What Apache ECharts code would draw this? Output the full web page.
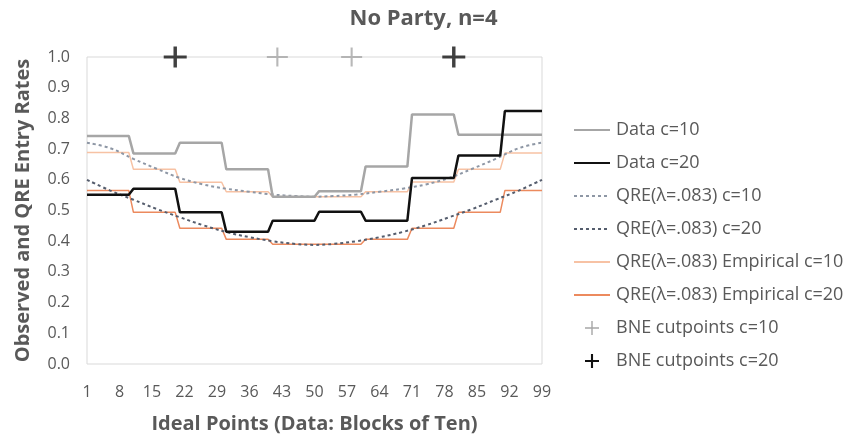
<!DOCTYPE html>
<html>
<head>
<meta charset="utf-8">
<script src="https://cdn.jsdelivr.net/npm/echarts@6/dist/echarts.min.js"></script>
<style>
  html, body { margin: 0; padding: 0; background: #fff; }
  #chart { width: 847px; height: 436px; }
</style>
</head>
<body>
<div id="chart"></div>
<script>
// ideal points 1..99
const categories = Array.from({ length: 99 }, (_, i) => String(i + 1));

// block values (1-10, 11-20, ..., 91-99)
const dataC10 = [0.743, 0.686, 0.721, 0.634, 0.545, 0.563, 0.643, 0.813, 0.747, 0.747];
const dataC20 = [0.551, 0.571, 0.494, 0.431, 0.467, 0.496, 0.467, 0.606, 0.679, 0.824];
const empiricalC10 = [0.689, 0.634, 0.592, 0.561, 0.545, 0.545, 0.561, 0.593, 0.634, 0.687];
const empiricalC20 = [0.565, 0.494, 0.442, 0.406, 0.390, 0.390, 0.406, 0.442, 0.494, 0.565];

// QRE curves read at these ideal points
const qrePoints = [1, 6, 11, 16, 21, 26, 31, 36, 41, 46, 50, 54, 59, 64, 69, 74, 79, 84, 89, 94, 99];
const qreC10 = [0.721, 0.703, 0.668, 0.636, 0.606, 0.585, 0.571, 0.561, 0.552, 0.547, 0.545,
  0.547, 0.552, 0.561, 0.571, 0.585, 0.606, 0.636, 0.668, 0.703, 0.721];
const qreC20 = [0.600, 0.565, 0.535, 0.505, 0.478, 0.452, 0.430, 0.413, 0.400, 0.391, 0.388,
  0.391, 0.400, 0.413, 0.430, 0.452, 0.478, 0.505, 0.535, 0.565, 0.600];

// BNE cutpoints
const bneC10 = [42, 58];
const bneC20 = [20, 80];

const yTicks = ['0.0', '0.1', '0.2', '0.3', '0.4', '0.5', '0.6', '0.7', '0.8', '0.9', '1.0'];

const textColor = '#595959';
const font = "'Open Sans', sans-serif";
const plus = 'path://M0,8.5 L20,8.5 L20,11.5 L0,11.5 Z M8.5,0 L11.5,0 L11.5,20 L8.5,20 Z';
const plusThin = 'path://M0,9 L20,9 L20,11 L0,11 Z M9,0 L11,0 L11,20 L9,20 Z';

function byBlock(blocks) {
  return categories.map((c, i) => blocks[Math.floor(i / 10)]);
}
function atPoints(points, values) {
  return points.map((p, i) => [p - 1, values[i]]);
}

const chart = echarts.init(document.getElementById('chart'));
const option = {
  animation: false,
  textStyle: { fontFamily: font },
  title: {
    text: 'No Party, n=4',
    left: 'center',
    top: 3,
    textStyle: { fontSize: 22, fontWeight: 'bold', color: textColor, fontFamily: font }
  },
  legend: {
    orient: 'vertical',
    left: 568,
    top: 116,
    itemWidth: 36,
    itemHeight: 14,
    itemGap: 15,
    itemStyle: { opacity: 0 },
    textStyle: { fontSize: 18, color: textColor, fontFamily: font, padding: [0, 0, 0, 1] },
    data: [
      'Data c=10', 'Data c=20', 'QRE(λ=.083) c=10', 'QRE(λ=.083) c=20',
      'QRE(λ=.083) Empirical c=10', 'QRE(λ=.083) Empirical c=20',
      { name: 'BNE cutpoints c=10', icon: plusThin, itemStyle: { color: '#a6a6a6', opacity: 1 } },
      { name: 'BNE cutpoints c=20', icon: plus, itemStyle: { color: '#111', opacity: 1 } }
    ]
  },
  grid: {
    left: 87,
    right: 305,
    top: 57,
    bottom: 72,
    outerBoundsMode: 'none',
    show: true,
    borderColor: '#d9d9d9',
    borderWidth: 1
  },
  xAxis: {
    type: 'category',
    data: categories,
    boundaryGap: false,
    axisLine: { show: false },
    axisTick: { show: false },
    axisLabel: { interval: 6, color: textColor, fontSize: 16, margin: 20, fontFamily: font },
    name: 'Ideal Points (Data: Blocks of Ten)',
    nameLocation: 'middle',
    nameGap: 50,
    nameTextStyle: { fontSize: 20, fontWeight: 'bold', color: textColor, fontFamily: font }
  },
  yAxis: {
    type: 'value',
    min: 0,
    max: 1,
    interval: 0.1,
    axisLine: { show: false },
    axisTick: { show: false },
    splitLine: { show: false },
    axisLabel: {
      color: textColor, fontSize: 16, margin: 17, fontFamily: font,
      formatter: (v) => yTicks[Math.round(v * 10)]
    },
    name: 'Observed and QRE Entry Rates',
    nameLocation: 'middle',
    nameGap: 54,
    nameTextStyle: { fontSize: 20, fontWeight: 'bold', color: textColor, fontFamily: font }
  },
  series: [
    {
      name: 'QRE(λ=.083) Empirical c=10',
      type: 'line',
      symbol: 'none',
      data: byBlock(empiricalC10),
      lineStyle: { color: '#f7c2a4', width: 1.5 },
      itemStyle: { color: '#f7c2a4' },
      z: 2
    },
    {
      name: 'QRE(λ=.083) Empirical c=20',
      type: 'line',
      symbol: 'none',
      data: byBlock(empiricalC20),
      lineStyle: { color: '#ec8a5e', width: 1.5 },
      itemStyle: { color: '#ec8a5e' },
      z: 2
    },
    {
      name: 'QRE(λ=.083) c=10',
      type: 'line',
      symbol: 'none',
      smooth: 0.4,
      data: atPoints(qrePoints, qreC10),
      lineStyle: { color: '#8e97a5', width: 2, type: [3, 3] },
      itemStyle: { color: '#8e97a5' },
      z: 3
    },
    {
      name: 'QRE(λ=.083) c=20',
      type: 'line',
      symbol: 'none',
      smooth: 0.4,
      data: atPoints(qrePoints, qreC20),
      lineStyle: { color: '#555d6d', width: 2, type: [3, 3] },
      itemStyle: { color: '#555d6d' },
      z: 3
    },
    {
      name: 'Data c=10',
      type: 'line',
      symbol: 'none',
      data: byBlock(dataC10),
      lineStyle: { color: '#a6a6a6', width: 2.5 },
      itemStyle: { color: '#a6a6a6' },
      z: 4
    },
    {
      name: 'Data c=20',
      type: 'line',
      symbol: 'none',
      data: byBlock(dataC20),
      lineStyle: { color: '#111', width: 2.5 },
      itemStyle: { color: '#111' },
      z: 5
    },
    {
      name: 'BNE cutpoints c=10',
      type: 'scatter',
      symbol: plusThin,
      symbolSize: [21, 19],
      clip: false,
      data: bneC10.map(p => [p - 1, 1.0]),
      itemStyle: { color: '#a6a6a6' },
      z: 6
    },
    {
      name: 'BNE cutpoints c=20',
      type: 'scatter',
      symbol: plus,
      symbolSize: [23, 21],
      clip: false,
      data: bneC20.map(p => [p - 1, 1.0]),
      itemStyle: { color: '#111' },
      z: 6
    }
  ]
};
chart.setOption(option);
</script>
</body>
</html>
